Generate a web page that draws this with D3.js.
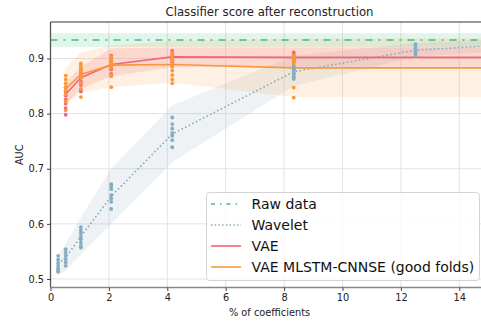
<!DOCTYPE html>
<html>
<head>
<meta charset="utf-8">
<script src="https://cdn.jsdelivr.net/npm/d3@7"></script>
<style>
  html, body { margin: 0; padding: 0; background: #fff; overflow: hidden; }
  svg { display: block; font-family: "DejaVu Sans", sans-serif; }
</style>
</head>
<body>
<svg id="chart" width="481" height="322"></svg>
<script>
// Percent of coefficients kept
const waveletX = [0.26, 0.52, 1.04, 2.08, 4.17, 8.33, 12.5, 16.67];
const vaeX = [0.52, 1.04, 2.08, 4.17, 8.33, 16.67];

// Raw data reference score
const rawMean = 0.9336;
const rawLo = 0.921;
const rawHi = 0.946;

// Wavelet compression
const waveletMean = [0.527, 0.539, 0.577, 0.650, 0.763, 0.876, 0.915, 0.928];
const waveletLo = [0.507, 0.515, 0.545, 0.600, 0.712, 0.850, 0.903, 0.918];
const waveletHi = [0.545, 0.565, 0.612, 0.700, 0.815, 0.905, 0.928, 0.938];
const waveletPts = [
  [0.542, 0.535, 0.529, 0.524, 0.519, 0.515, 0.513],
  [0.554, 0.548, 0.542, 0.536, 0.530, 0.524],
  [0.594, 0.588, 0.583, 0.577, 0.572, 0.566, 0.560, 0.557],
  [0.672, 0.668, 0.663, 0.652, 0.646, 0.640, 0.627],
  [0.793, 0.781, 0.773, 0.765, 0.760, 0.752, 0.739],
  [0.885, 0.880, 0.876, 0.872, 0.868, 0.863],
  [0.926, 0.921, 0.917, 0.913, 0.909, 0.904]
];

// VAE
const vaeMean = [0.835, 0.865, 0.889, 0.903, 0.902, 0.902];
const vaeLo = [0.816, 0.845, 0.868, 0.884, 0.885, 0.885];
const vaeHi = [0.856, 0.885, 0.918, 0.920, 0.920, 0.920];
const vaePts = [
  [0.848, 0.840, 0.833, 0.826, 0.818, 0.810, 0.798],
  [0.880, 0.872, 0.865, 0.858, 0.852, 0.843, 0.840],
  [0.905, 0.900, 0.895, 0.890, 0.885, 0.880, 0.872],
  [0.914, 0.909, 0.905, 0.901, 0.897, 0.893],
  [0.911, 0.906, 0.902, 0.898, 0.894]
];

// VAE MLSTM-CNNSE (good folds)
const mlstmMean = [0.845, 0.871, 0.888, 0.889, 0.883, 0.883];
const mlstmLo = [0.818, 0.838, 0.848, 0.856, 0.830, 0.830];
const mlstmHi = [0.883, 0.911, 0.924, 0.932, 0.936, 0.937];
const mlstmPts = [
  [0.869, 0.862, 0.855, 0.848, 0.842, 0.835, 0.822, 0.806],
  [0.891, 0.887, 0.883, 0.879, 0.875, 0.870, 0.866, 0.856, 0.845, 0.830],
  [0.903, 0.899, 0.895, 0.891, 0.887, 0.883, 0.870, 0.868, 0.848],
  [0.910, 0.905, 0.900, 0.895, 0.890, 0.885, 0.878, 0.870, 0.862, 0.855],
  [0.905, 0.900, 0.895, 0.890, 0.885, 0.880, 0.873, 0.866, 0.847, 0.829]
];

const xTicks = [0, 2, 4, 6, 8, 10, 12, 14];
const yTicks = [0.5, 0.6, 0.7, 0.8, 0.9];

const colors = {
  raw: "#3dbf80",
  wavelet: "#84adc2",
  vae: "#f2667a",
  mlstm: "#f7983c"
};

const svg = d3.select("#chart");
const margin = { left: 50.5, top: 22, right: 488.5, bottom: 287.5 };

const x = d3.scaleLinear().domain([0, 15]).range([margin.left, margin.right]);
const y = d3.scaleLinear().domain([0.4846, 0.9662]).range([margin.bottom, margin.top]);

svg.append("defs").append("clipPath").attr("id", "plotClip")
  .append("rect")
  .attr("x", margin.left).attr("y", margin.top)
  .attr("width", margin.right - margin.left)
  .attr("height", margin.bottom - margin.top);

// grid
const grid = svg.append("g");
grid.selectAll(".gx").data(xTicks).join("line")
  .attr("x1", d => x(d)).attr("x2", d => x(d))
  .attr("y1", margin.top).attr("y2", margin.bottom)
  .attr("stroke", "#e3e3e3").attr("stroke-width", 1);
grid.selectAll(".gy").data(yTicks).join("line")
  .attr("x1", margin.left).attr("x2", margin.right)
  .attr("y1", d => y(d)).attr("y2", d => y(d))
  .attr("stroke", "#e3e3e3").attr("stroke-width", 1);

const plot = svg.append("g").attr("clip-path", "url(#plotClip)");

// bands
const area = (xs, lo, hi) => d3.area()
  .x((d, i) => x(xs[i]))
  .y0((d, i) => y(lo[i]))
  .y1((d, i) => y(hi[i]))(xs);

plot.append("rect")
  .attr("x", x(0)).attr("width", x(15) - x(0))
  .attr("y", y(rawHi)).attr("height", y(rawLo) - y(rawHi))
  .attr("fill", colors.raw).attr("opacity", 0.15);
plot.append("path").attr("d", area(waveletX, waveletLo, waveletHi))
  .attr("fill", "#9fb9c8").attr("opacity", 0.18);
plot.append("path").attr("d", area(vaeX, vaeLo, vaeHi))
  .attr("fill", colors.vae).attr("opacity", 0.18);
plot.append("path").attr("d", area(vaeX, mlstmLo, mlstmHi))
  .attr("fill", colors.mlstm).attr("opacity", 0.15);

// lines
const line = (xs, ys) => d3.line().x((d, i) => x(xs[i])).y((d, i) => y(ys[i]))(xs);

plot.append("line")
  .attr("x1", x(0)).attr("x2", x(15))
  .attr("y1", y(rawMean)).attr("y2", y(rawMean))
  .attr("stroke", colors.raw).attr("stroke-width", 1.6)
  .attr("stroke-dasharray", "7,6,2,6");
plot.append("path").attr("d", line(waveletX, waveletMean))
  .attr("fill", "none").attr("stroke", colors.wavelet)
  .attr("stroke-width", 1.6).attr("stroke-dasharray", "1.6,2.4");
plot.append("path").attr("d", line(vaeX, vaeMean))
  .attr("fill", "none").attr("stroke", colors.vae).attr("stroke-width", 1.6);
plot.append("path").attr("d", line(vaeX, mlstmMean))
  .attr("fill", "none").attr("stroke", colors.mlstm).attr("stroke-width", 1.6);

// per-fold points
function dots(xs, pts, color) {
  const flat = [];
  pts.forEach((arr, i) => arr.forEach(v => flat.push([xs[i], v])));
  plot.append("g").selectAll("circle").data(flat).join("circle")
    .attr("cx", d => x(d[0])).attr("cy", d => y(d[1]))
    .attr("r", 1.9).attr("fill", color);
}
dots(vaeX, vaePts, colors.vae);
dots(vaeX, mlstmPts, colors.mlstm);
dots(waveletX, waveletPts, colors.wavelet);

// spines
svg.append("line").attr("x1", margin.left).attr("x2", margin.right)
  .attr("y1", margin.top).attr("y2", margin.top)
  .attr("stroke", "#333").attr("stroke-width", 1);
svg.append("line").attr("x1", margin.left).attr("x2", margin.left)
  .attr("y1", margin.top).attr("y2", margin.bottom)
  .attr("stroke", "#555").attr("stroke-width", 1.3);
svg.append("line").attr("x1", margin.left).attr("x2", margin.right)
  .attr("y1", margin.bottom).attr("y2", margin.bottom)
  .attr("stroke", "#888").attr("stroke-width", 1.6);

// axes
const xAxis = svg.append("g").attr("transform", `translate(0,${margin.bottom})`)
  .call(d3.axisBottom(x).tickValues(xTicks).tickFormat(d3.format("d")).tickSize(3.5).tickPadding(3));
const yAxis = svg.append("g").attr("transform", `translate(${margin.left},0)`)
  .call(d3.axisLeft(y).tickValues(yTicks).tickFormat(d3.format(".1f")).tickSize(3.5).tickPadding(3));
[xAxis, yAxis].forEach(a => {
  a.select(".domain").remove();
  a.selectAll(".tick line").attr("stroke", "#444");
  a.selectAll(".tick text").attr("fill", "#222").attr("font-size", "9.8px")
    .attr("font-family", "DejaVu Sans, sans-serif");
});

// titles
svg.append("text").attr("x", (margin.left + margin.right) / 2).attr("y", 15.5)
  .attr("text-anchor", "middle").attr("font-size", "11.7px").attr("fill", "#222")
  .text("Classifier score after reconstruction");
svg.append("text").attr("x", (margin.left + margin.right) / 2).attr("y", 315.5)
  .attr("text-anchor", "middle").attr("font-size", "9.8px").attr("fill", "#222")
  .text("% of coefficients");
svg.append("text")
  .attr("transform", `translate(22.5,${(margin.top + margin.bottom) / 2}) rotate(-90)`)
  .attr("text-anchor", "middle").attr("font-size", "9.8px").attr("fill", "#222")
  .text("AUC");

// legend
const legendItems = [
  { label: "Raw data", color: colors.raw, dash: "4,5,1.5,5" },
  { label: "Wavelet", color: colors.wavelet, dash: "1.5,2.2" },
  { label: "VAE", color: colors.vae, dash: null },
  { label: "VAE MLSTM-CNNSE (good folds)", color: colors.mlstm, dash: null }
];
const legend = svg.append("g");
legend.append("rect")
  .attr("x", 206.5).attr("y", 192.5).attr("width", 273).attr("height", 88)
  .attr("rx", 3).attr("fill", "#fff").attr("fill-opacity", 0.8)
  .attr("stroke", "#d4d4d4").attr("stroke-width", 1);
legendItems.forEach((d, i) => {
  const yy = 204 + i * 21;
  legend.append("line")
    .attr("x1", 211).attr("x2", 241).attr("y1", yy).attr("y2", yy)
    .attr("stroke", d.color).attr("stroke-width", 1.6)
    .attr("stroke-dasharray", d.dash);
  legend.append("text").attr("x", 251.5).attr("y", yy + 4.8)
    .attr("font-size", "14px").attr("fill", "#111").text(d.label);
});
</script>
</body>
</html>
